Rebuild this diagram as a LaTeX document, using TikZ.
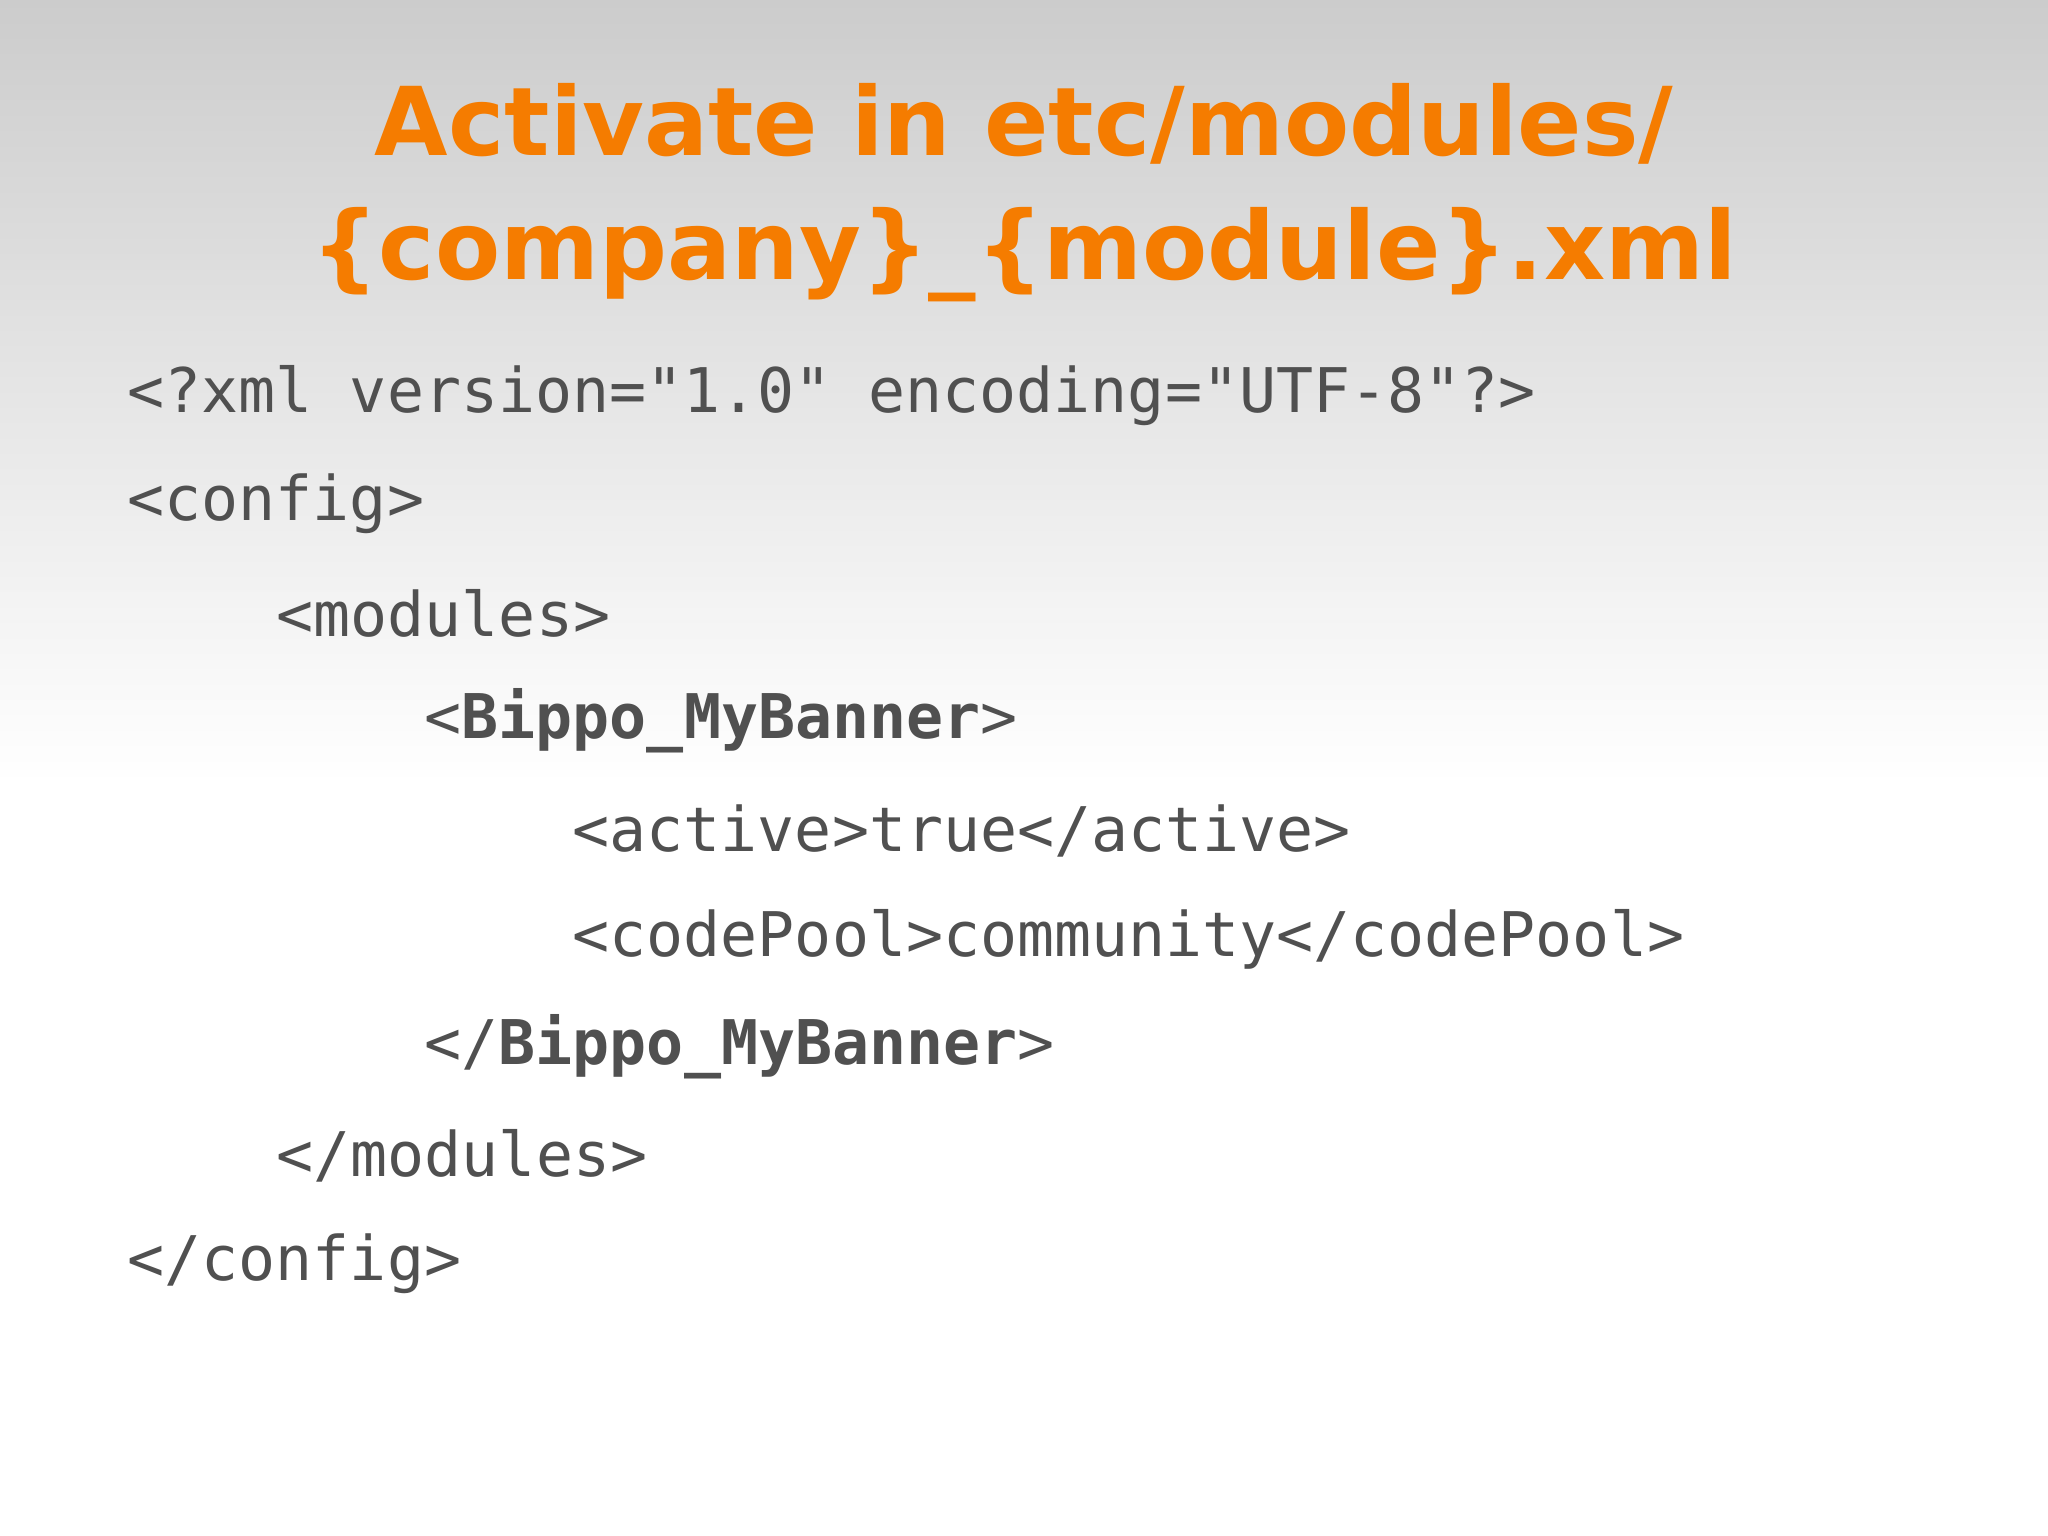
\documentclass[tikz,border=0pt]{standalone}
\usepackage{fontspec}
\setmainfont{DejaVu Sans}
\newfontfamily\codefont{DejaVu Sans Mono}
\definecolor{ttl}{HTML}{F57C00}
\definecolor{codec}{HTML}{505050}
\begin{document}
\begin{tikzpicture}[x=0.01cm,y=-0.01cm,
  code/.style={anchor=west,inner sep=0,text=codec,font=\codefont\fontsize{17.5}{20}\selectfont},
  ttlstyle/.style={inner sep=0,text=ttl,font=\bfseries\fontsize{27}{32}\selectfont}]
\useasboundingbox (0,0) rectangle (2048,1535);
\fill[white] (0,0) rectangle (2048,1535);
\shade[top color=black!20,bottom color=white] (0,0) rectangle (2048,784);
\node[ttlstyle] (t1) at (1024,124) {Activate in etc/modules/};
\node[ttlstyle] (t2) at (1024,255) {\{company\}\_\{module\}.xml};
\node[code] (l1) at (127,396) {<?xml version="1.0" encoding="UTF-8"?>};
\node[code] (l2) at (127,504) {<config>};
\node[code] (l3) at (276,613) {<modules>};
\node[code] (l4) at (424,721) {<\textbf{Bippo\_MyBanner}>};
\node[code] (l5) at (572,831) {<active>true</active>};
\node[code] (l6) at (572,939) {<codePool>community</codePool>};
\node[code] (l7) at (424,1047) {</\textbf{Bippo\_MyBanner}>};
\node[code] (l8) at (276,1156) {</modules>};
\node[code] (l9) at (127,1264) {</config>};
\end{tikzpicture}
\end{document}
